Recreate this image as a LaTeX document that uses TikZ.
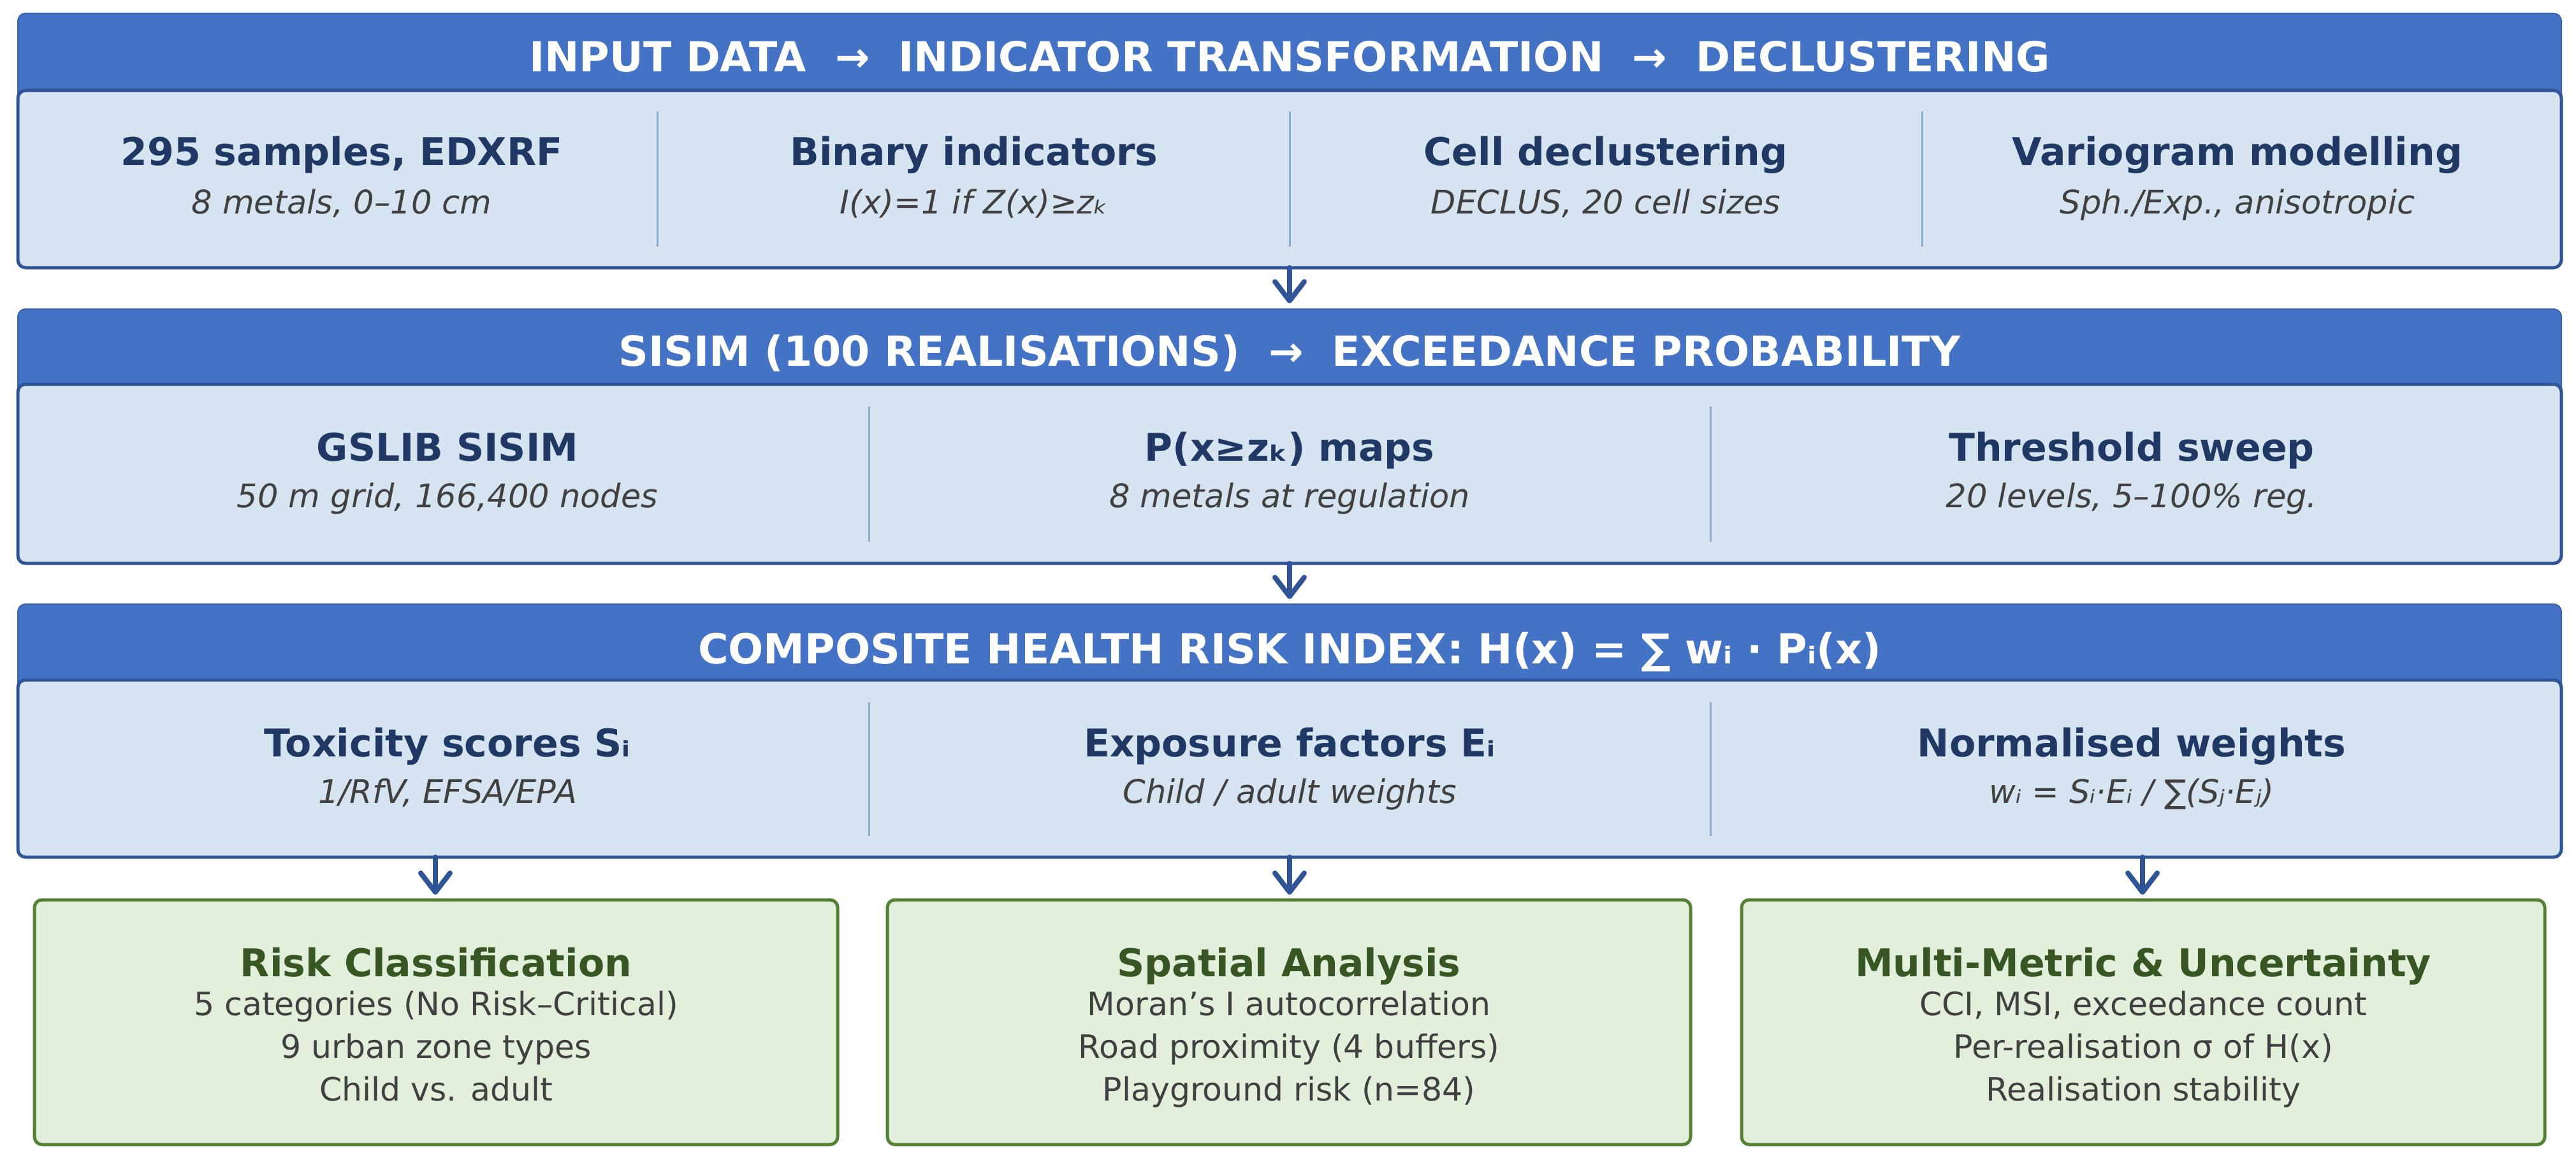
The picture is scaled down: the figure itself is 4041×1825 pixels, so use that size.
\documentclass[tikz,border=0pt]{standalone}
\usepackage{fontspec}
\setmainfont{DejaVu Sans}
\usetikzlibrary{arrows.meta}
\definecolor{hdrblue}{HTML}{4472C4}
\definecolor{bordblue}{HTML}{2F5597}
\definecolor{bodyfill}{HTML}{D6E3F0}
\definecolor{navy}{HTML}{1F3864}
\definecolor{txtgrey}{HTML}{404040}
\definecolor{divblue}{HTML}{8EA9CF}
\definecolor{grnfill}{HTML}{E2EFDA}
\definecolor{grnbord}{HTML}{548235}
\definecolor{grntitle}{HTML}{375623}
\begin{document}
\begin{tikzpicture}[x=1pt,y=-1pt,
  hdrbox/.style={fill=hdrblue,draw=hdrblue!85!black,line width=2pt,rounded corners=12pt},
  bodybox/.style={fill=bodyfill,draw=bordblue,line width=5pt,rounded corners=12pt},
  hdrtext/.style={anchor=base,text=white,font=\fontsize{65}{77}\selectfont\bfseries,inner sep=0pt},
  coltitle/.style={anchor=base,text=navy,font=\fontsize{60}{72}\selectfont\bfseries,inner sep=0pt},
  colsub/.style={anchor=base,text=txtgrey,font=\fontsize{51}{62}\selectfont\itshape,inner sep=0pt},
  divline/.style={draw=divblue,line width=3pt},
  flow/.style={draw=bordblue,line width=8pt,-{Straight Barb[length=30pt,width=46pt,line width=8pt,round]},line cap=round},
  grnbox/.style={fill=grnfill,draw=grnbord,line width=5pt,rounded corners=12pt},
  grntitletext/.style={anchor=base,text=grntitle,font=\fontsize{60}{72}\selectfont\bfseries,inner sep=0pt},
  grnline/.style={anchor=base,text=txtgrey,font=\fontsize{50.5}{67}\selectfont,inner sep=0pt}
]
\useasboundingbox (0,0) rectangle (4041,1825);
\fill[white] (0,0) rectangle (4041,1825);

% ---------- Band 1 ----------
\draw[hdrbox] (28,21) rectangle (4018,400);
\draw[bodybox] (28,142) rectangle (4018,420);
\node[hdrtext] (h1) at (2023,113) {INPUT DATA\ \ →\ \ INDICATOR TRANSFORMATION\ \ →\ \ DECLUSTERING};
\draw[divline] (1031,175) -- (1031,387);
\draw[divline] (2023,175) -- (2023,387);
\draw[divline] (3015,175) -- (3015,387);
\node[coltitle] (a1) at (536,259) {295 samples, EDXRF};
\node[colsub] (a1s) at (536,335) {8 metals, 0–10 cm};
\node[coltitle] (a2) at (1528,259) {Binary indicators};
\node[colsub] (a2s) at (1528,335) {I(x)=1 if Z(x)≥zₖ};
\node[coltitle] (a3) at (2519,259) {Cell declustering};
\node[colsub] (a3s) at (2519,335) {DECLUS, 20 cell sizes};
\node[coltitle] (a4) at (3510,259) {Variogram modelling};
\node[colsub] (a4s) at (3510,335) {Sph./Exp., anisotropic};
\coordinate (b1bot) at (2023,420);

% ---------- Band 2 ----------
\draw[hdrbox] (28,485) rectangle (4018,860);
\draw[bodybox] (28,603) rectangle (4018,884);
\coordinate (b2top) at (2023,476);
\node[hdrtext] (h2) at (2023,574) {SISIM (100 REALISATIONS)\ \ →\ \ EXCEEDANCE PROBABILITY};
\draw[divline] (1363,638) -- (1363,850);
\draw[divline] (2683,638) -- (2683,850);
\node[coltitle] (c1) at (702,723) {GSLIB SISIM};
\node[colsub] (c1s) at (702,796) {50 m grid, 166,400 nodes};
\node[coltitle] (c2) at (2023,723) {P(x≥zₖ) maps};
\node[colsub] (c2s) at (2023,796) {8 metals at regulation};
\node[coltitle] (c3) at (3344,723) {Threshold sweep};
\node[colsub] (c3s) at (3344,796) {20 levels, 5–100\% reg.};
\coordinate (b2bot) at (2023,884);

% ---------- Band 3 ----------
\draw[hdrbox] (28,948) rectangle (4018,1320);
\draw[bodybox] (28,1067) rectangle (4018,1345);
\coordinate (b3top) at (2023,940);
\node[hdrtext] (h3) at (2023,1041) {COMPOSITE HEALTH RISK INDEX: H(x) = ∑ wᵢ · Pᵢ(x)};
\draw[divline] (1363,1102) -- (1363,1312);
\draw[divline] (2683,1102) -- (2683,1312);
\node[coltitle] (d1) at (702,1187) {Toxicity scores Sᵢ};
\node[colsub] (d1s) at (702,1260) {1/RfV, EFSA/EPA};
\node[coltitle] (d2) at (2023,1187) {Exposure factors Eᵢ};
\node[colsub] (d2s) at (2023,1260) {Child / adult weights};
\node[coltitle] (d3) at (3344,1187) {Normalised weights};
\node[colsub] (d3s) at (3344,1260) {wᵢ = Sᵢ·Eᵢ / ∑(Sⱼ·Eⱼ)};
\coordinate (o1src) at (683,1345);
\coordinate (o2src) at (2023,1345);
\coordinate (o3src) at (3361,1345);

% ---------- Output boxes ----------
\draw[grnbox] (54,1412) rectangle (1314,1796);
\draw[grnbox] (1392,1412) rectangle (2652,1796);
\draw[grnbox] (2732,1412) rectangle (3992,1796);
\coordinate (o1top) at (683,1404);
\coordinate (o2top) at (2023,1404);
\coordinate (o3top) at (3361,1404);

\node[grntitletext] (e1) at (684,1532) {Risk Classification};
\node[grnline] (e1a) at (684,1593) {5 categories (No Risk–Critical)};
\node[grnline] (e1b) at (684,1660) {9 urban zone types};
\node[grnline] (e1c) at (684,1727) {Child vs. adult};

\node[grntitletext] (e2) at (2022,1532) {Spatial Analysis};
\node[grnline] (e2a) at (2022,1593) {Moran’s I autocorrelation};
\node[grnline] (e2b) at (2022,1660) {Road proximity (4 buffers)};
\node[grnline] (e2c) at (2022,1727) {Playground risk (n=84)};

\node[grntitletext] (e3) at (3362,1532) {Multi-Metric \& Uncertainty};
\node[grnline] (e3a) at (3362,1593) {CCI, MSI, exceedance count};
\node[grnline] (e3b) at (3362,1660) {Per-realisation σ of H(x)};
\node[grnline] (e3c) at (3362,1727) {Realisation stability};

% ---------- Arrows ----------
\draw[flow] (b1bot) -- (b2top);
\draw[flow] (b2bot) -- (b3top);
\draw[flow] (o1src) -- (o1top);
\draw[flow] (o2src) -- (o2top);
\draw[flow] (o3src) -- (o3top);
\end{tikzpicture}
\end{document}
